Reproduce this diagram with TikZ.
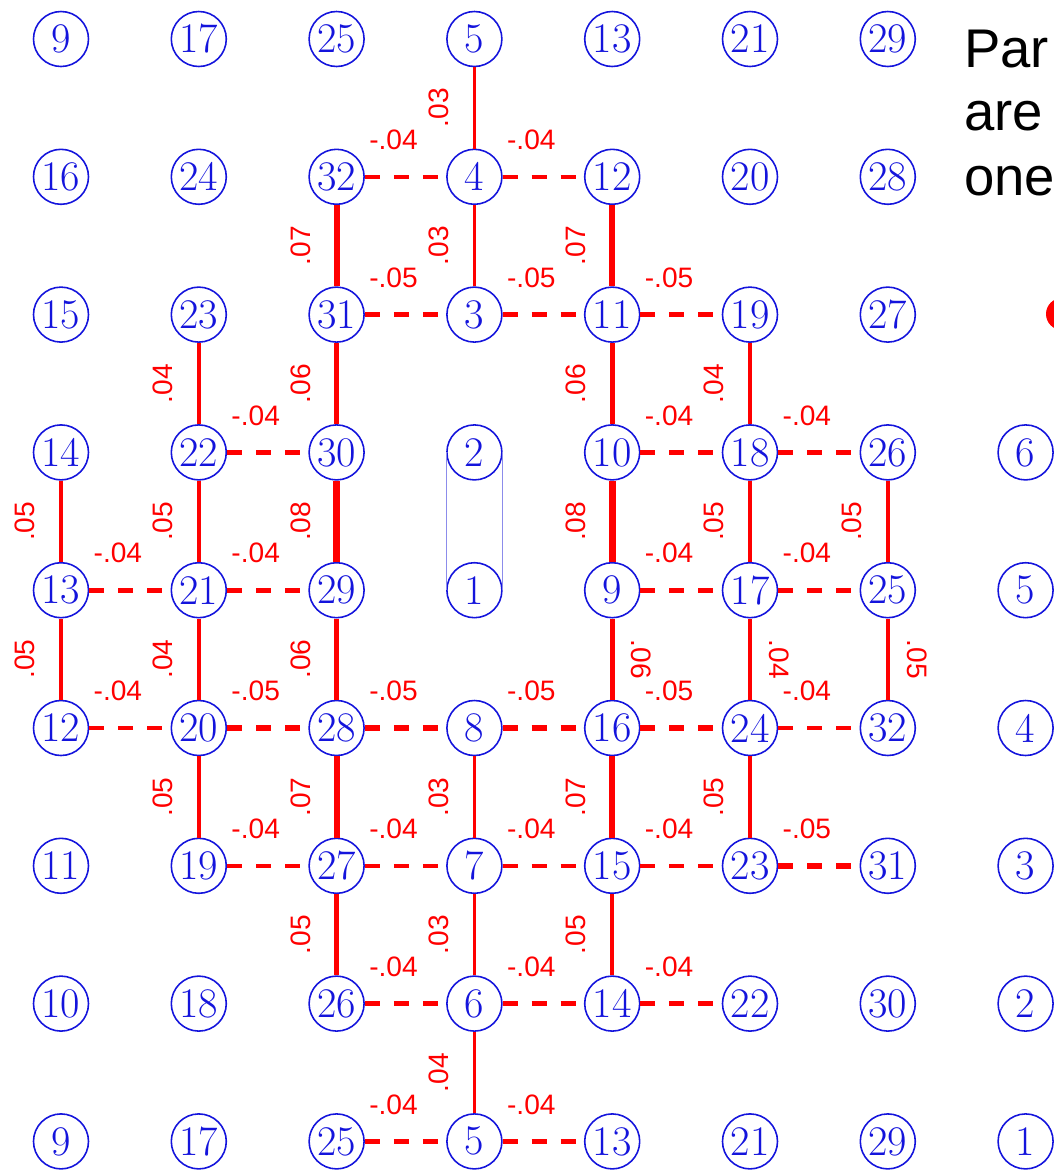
\documentclass[tikz,border=0pt]{standalone}
\usepackage{fontspec}
\newfontfamily\valuefont{Liberation Sans}
\usetikzlibrary{positioning}

\definecolor{siteblue}{RGB}{20,20,220}
\definecolor{pairblue}{RGB}{140,140,235}

\begin{document}
\begin{tikzpicture}[
    node distance=2.756cm,
    on grid,
    site/.style={circle,draw=siteblue,text=siteblue,line width=0.9pt,
        minimum size=1.1cm,inner sep=-0.5pt,font=\fontsize{24}{24}\selectfont},
    bond/.style={red,line width=#1*1.7cm},
    link/.style={red,line width=#1*2.3cm,dash pattern=on 0.3cm off 0.28cm},
    twin/.style={pairblue,line width=0.6pt},
    val/.style={red,inner sep=0pt,font=\valuefont\fontsize{16}{16}\selectfont},
    hval/.style={val,midway,xshift=-0.24cm,yshift=0.74cm},
    vval/.style={val,midway,xshift=-0.72cm,rotate=90},
    uval/.style={val,midway,xshift=0.58cm,rotate=-90},
]

\useasboundingbox (0,0) rectangle (21.08,-23.4);
\clip (0,0) rectangle (21.08,-23.4);

%----------------------------------
% Sites, row by row
%----------------------------------

\node[site] (n00) at (1.22,-0.78) {9};
\node[site,right=of n00] (n01) {17};
\node[site,right=of n01] (n02) {25};
\node[site,right=of n02] (n03) {5};
\node[site,right=of n03] (n04) {13};
\node[site,right=of n04] (n05) {21};
\node[site,right=of n05] (n06) {29};

\node[site,below=of n00] (n10) {16};
\node[site,right=of n10] (n11) {24};
\node[site,right=of n11] (n12) {32};
\node[site,right=of n12] (n13) {4};
\node[site,right=of n13] (n14) {12};
\node[site,right=of n14] (n15) {20};
\node[site,right=of n15] (n16) {28};

\node[site,below=of n10] (n20) {15};
\node[site,right=of n20] (n21) {23};
\node[site,right=of n21] (n22) {31};
\node[site,right=of n22] (n23) {3};
\node[site,right=of n23] (n24) {11};
\node[site,right=of n24] (n25) {19};
\node[site,right=of n25] (n26) {27};

\node[site,below=of n20] (n30) {14};
\node[site,right=of n30] (n31) {22};
\node[site,right=of n31] (n32) {30};
\node[site,right=of n32] (n33) {2};
\node[site,right=of n33] (n34) {10};
\node[site,right=of n34] (n35) {18};
\node[site,right=of n35] (n36) {26};
\node[site,right=of n36] (n37) {6};

\node[site,below=of n30] (n40) {13};
\node[site,right=of n40] (n41) {21};
\node[site,right=of n41] (n42) {29};
\node[site,right=of n42] (n43) {1};
\node[site,right=of n43] (n44) {9};
\node[site,right=of n44] (n45) {17};
\node[site,right=of n45] (n46) {25};
\node[site,right=of n46] (n47) {5};

\node[site,below=of n40] (n50) {12};
\node[site,right=of n50] (n51) {20};
\node[site,right=of n51] (n52) {28};
\node[site,right=of n52] (n53) {8};
\node[site,right=of n53] (n54) {16};
\node[site,right=of n54] (n55) {24};
\node[site,right=of n55] (n56) {32};
\node[site,right=of n56] (n57) {4};

\node[site,below=of n50] (n60) {11};
\node[site,right=of n60] (n61) {19};
\node[site,right=of n61] (n62) {27};
\node[site,right=of n62] (n63) {7};
\node[site,right=of n63] (n64) {15};
\node[site,right=of n64] (n65) {23};
\node[site,right=of n65] (n66) {31};
\node[site,right=of n66] (n67) {3};

\node[site,below=of n60] (n70) {10};
\node[site,right=of n70] (n71) {18};
\node[site,right=of n71] (n72) {26};
\node[site,right=of n72] (n73) {6};
\node[site,right=of n73] (n74) {14};
\node[site,right=of n74] (n75) {22};
\node[site,right=of n75] (n76) {30};
\node[site,right=of n76] (n77) {2};

\node[site,below=of n70] (n80) {9};
\node[site,right=of n80] (n81) {17};
\node[site,right=of n81] (n82) {25};
\node[site,right=of n82] (n83) {5};
\node[site,right=of n83] (n84) {13};
\node[site,right=of n84] (n85) {21};
\node[site,right=of n85] (n86) {29};
\node[site,right=of n86] (n87) {1};

\draw[twin] (n33.west) -- (n43.west);
\draw[twin] (n33.east) -- (n43.east);

%----------------------------------
% Vertical bonds
%----------------------------------

\draw[bond=.05] (n40) -- node[vval] {.05} (n30);
\draw[bond=.05] (n50) -- node[vval] {.05} (n40);

\draw[bond=.04] (n31) -- node[vval] {.04} (n21);
\draw[bond=.05] (n41) -- node[vval] {.05} (n31);
\draw[bond=.04] (n51) -- node[vval] {.04} (n41);
\draw[bond=.05] (n61) -- node[vval] {.05} (n51);

\draw[bond=.07] (n22) -- node[vval] {.07} (n12);
\draw[bond=.06] (n32) -- node[vval] {.06} (n22);
\draw[bond=.08] (n42) -- node[vval] {.08} (n32);
\draw[bond=.06] (n52) -- node[vval] {.06} (n42);
\draw[bond=.07] (n62) -- node[vval] {.07} (n52);
\draw[bond=.05] (n72) -- node[vval] {.05} (n62);

\draw[bond=.03] (n13) -- node[vval] {.03} (n03);
\draw[bond=.03] (n23) -- node[vval] {.03} (n13);
\draw[bond=.03] (n63) -- node[vval] {.03} (n53);
\draw[bond=.03] (n73) -- node[vval] {.03} (n63);
\draw[bond=.04] (n83) -- node[vval] {.04} (n73);

\draw[bond=.07] (n24) -- node[vval] {.07} (n14);
\draw[bond=.06] (n34) -- node[vval] {.06} (n24);
\draw[bond=.08] (n44) -- node[vval] {.08} (n34);
\draw[bond=.06] (n54) -- node[uval] {.06} (n44);
\draw[bond=.07] (n64) -- node[vval] {.07} (n54);
\draw[bond=.05] (n74) -- node[vval] {.05} (n64);

\draw[bond=.04] (n35) -- node[vval] {.04} (n25);
\draw[bond=.05] (n45) -- node[vval] {.05} (n35);
\draw[bond=.04] (n55) -- node[uval] {.04} (n45);
\draw[bond=.05] (n65) -- node[vval] {.05} (n55);

\draw[bond=.05] (n46) -- node[vval] {.05} (n36);
\draw[bond=.05] (n56) -- node[uval] {.05} (n46);

%----------------------------------
% Horizontal links
%----------------------------------

\draw[link=.04] (n12) -- node[hval] {-.04} (n13);
\draw[link=.04] (n13) -- node[hval] {-.04} (n14);

\draw[link=.05] (n22) -- node[hval] {-.05} (n23);
\draw[link=.05] (n23) -- node[hval] {-.05} (n24);
\draw[link=.05] (n24) -- node[hval] {-.05} (n25);

\draw[link=.04] (n31) -- node[hval] {-.04} (n32);
\draw[link=.04] (n34) -- node[hval] {-.04} (n35);
\draw[link=.04] (n35) -- node[hval] {-.04} (n36);

\draw[link=.04] (n40) -- node[hval] {-.04} (n41);
\draw[link=.04] (n41) -- node[hval] {-.04} (n42);
\draw[link=.04] (n44) -- node[hval] {-.04} (n45);
\draw[link=.04] (n45) -- node[hval] {-.04} (n46);

\draw[link=.04] (n50) -- node[hval] {-.04} (n51);
\draw[link=.05] (n51) -- node[hval] {-.05} (n52);
\draw[link=.05] (n52) -- node[hval] {-.05} (n53);
\draw[link=.05] (n53) -- node[hval] {-.05} (n54);
\draw[link=.05] (n54) -- node[hval] {-.05} (n55);
\draw[link=.04] (n55) -- node[hval] {-.04} (n56);

\draw[link=.04] (n61) -- node[hval] {-.04} (n62);
\draw[link=.04] (n62) -- node[hval] {-.04} (n63);
\draw[link=.04] (n63) -- node[hval] {-.04} (n64);
\draw[link=.04] (n64) -- node[hval] {-.04} (n65);
\draw[link=.05] (n65) -- node[hval] {-.05} (n66);

\draw[link=.04] (n72) -- node[hval] {-.04} (n73);
\draw[link=.04] (n73) -- node[hval] {-.04} (n74);
\draw[link=.04] (n74) -- node[hval] {-.04} (n75);

\draw[link=.04] (n82) -- node[hval] {-.04} (n83);
\draw[link=.04] (n83) -- node[hval] {-.04} (n84);

%----------------------------------
% Side text
%----------------------------------

\node[anchor=base west,inner sep=0pt,font=\valuefont\fontsize{31}{31}\selectfont]
    (note1) at (19.28,-1.34) {Par};
\node[anchor=base west,inner sep=0pt,font=\valuefont\fontsize{31}{31}\selectfont]
    (note2) at (19.28,-2.6) {are};
\node[anchor=base west,inner sep=0pt,font=\valuefont\fontsize{31}{31}\selectfont]
    (note3) at (19.28,-3.9) {one};

\node[circle,fill=red,minimum size=0.64cm,inner sep=0pt] (dot) at (21.24,-6.28) {};

\end{tikzpicture}
\end{document}
